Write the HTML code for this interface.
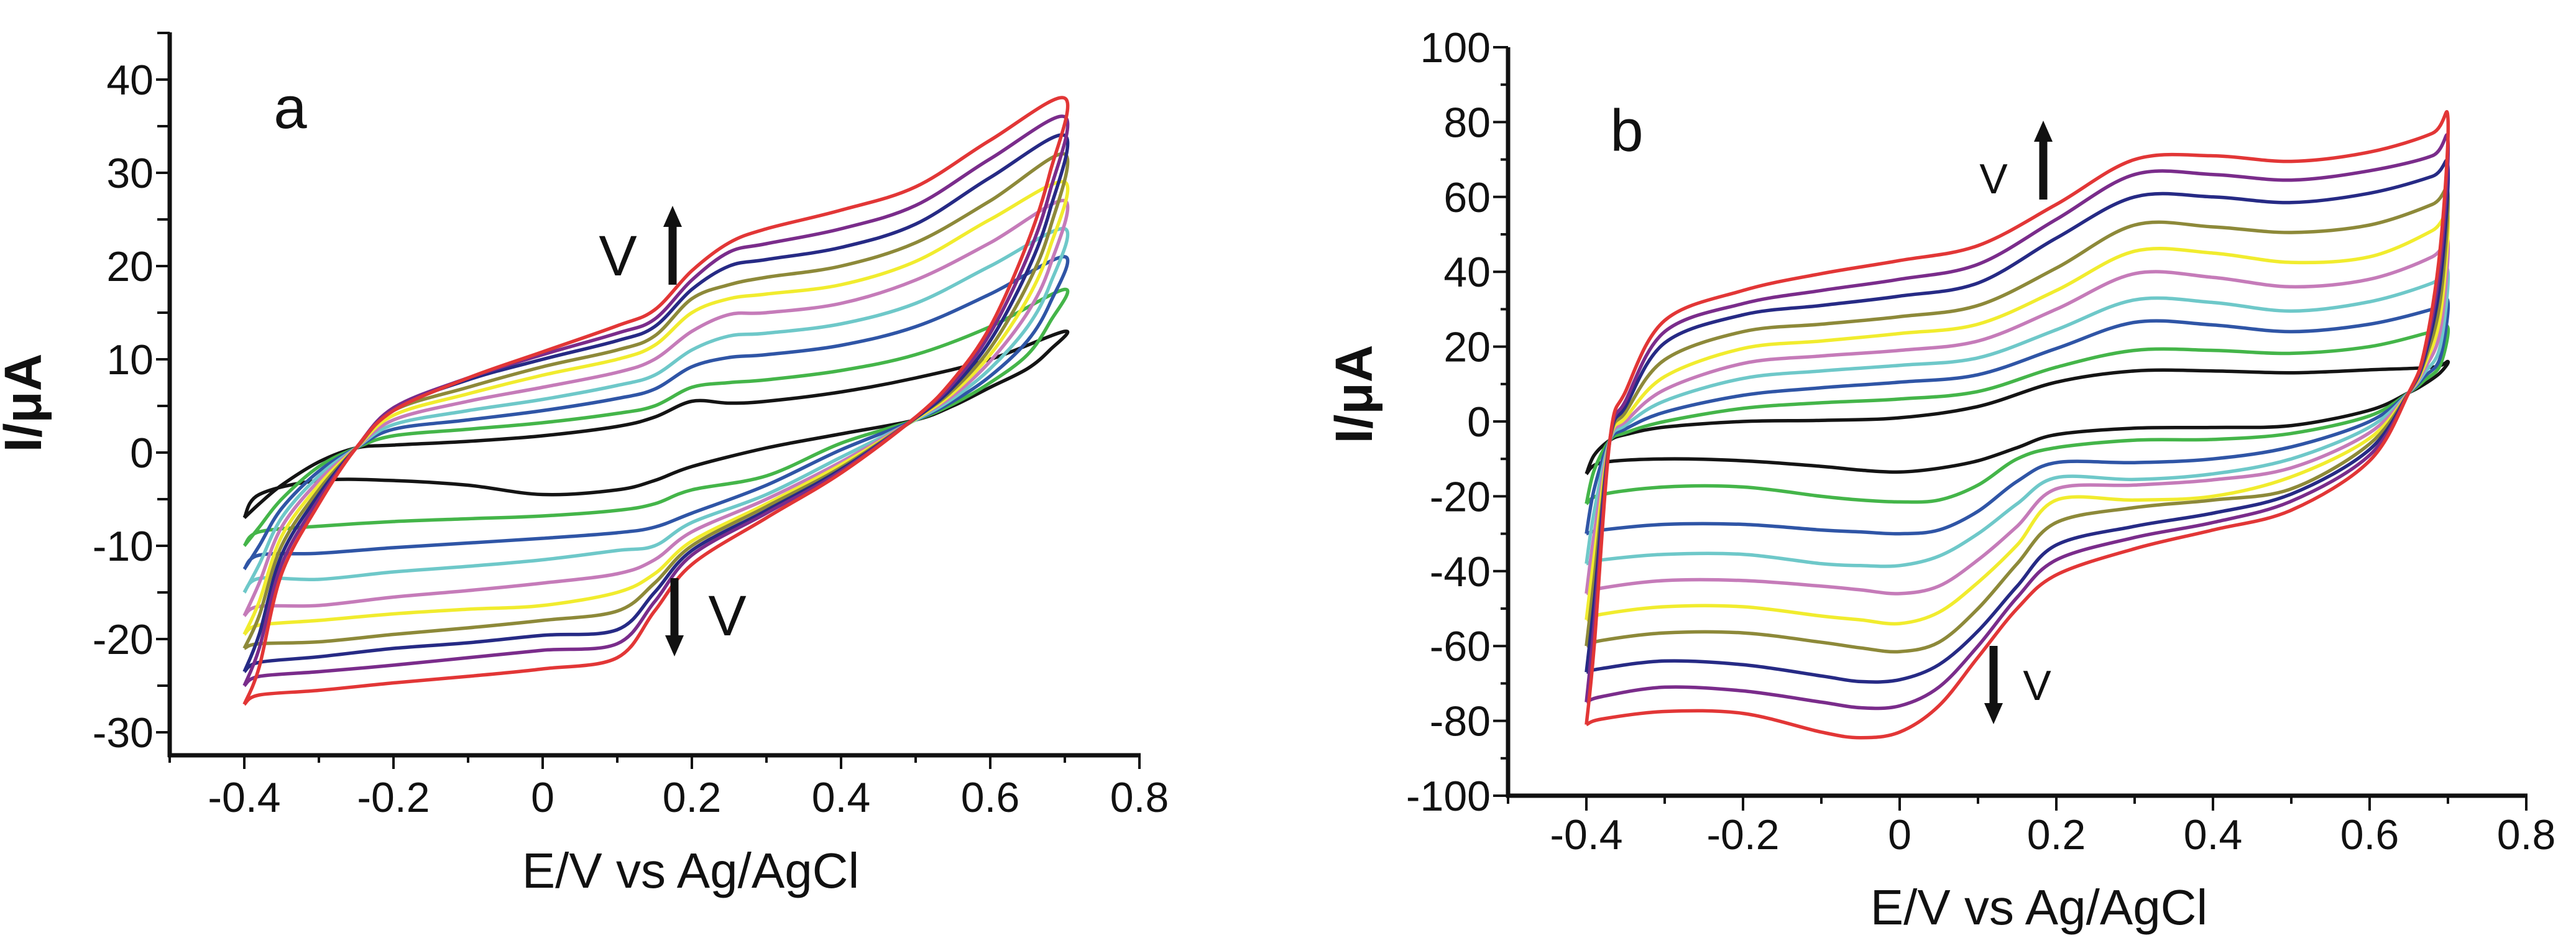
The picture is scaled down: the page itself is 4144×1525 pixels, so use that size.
<!DOCTYPE html>
<html><head><meta charset="utf-8"><style>
html,body{margin:0;padding:0;background:#fff;}
svg{display:block;}
text{font-family:"Liberation Sans",sans-serif;fill:#111;}
</style></head><body>
<svg id="fig" width="4144" height="1525" viewBox="0 0 4144 1525" xmlns="http://www.w3.org/2000/svg">
<g id="pa"></g>
<g id="pb"></g>
</svg>
<script>
const colors = ["#141414","#44b549","#2f55a6","#6ec8c9","#c57bb9","#f1ec2e","#8d8939","#262a85","#7a2c8b","#e23636"];
const seriesNames = ["black","green","blue","cyan","pink","yellow","olive","navy","purple","red"];

// ---------- Panel a data ----------
const aUpE = [-0.4,-0.38,-0.35,-0.3,-0.25,-0.2,-0.1,0,0.1,0.15,0.2,0.25,0.3,0.4,0.5,0.6,0.7];
const aUp = [
 [-7,-5.5,-3.5,-1,0.5,0.8,1.2,1.8,2.8,3.8,5.5,5.3,5.5,6.5,8,10,13],
 [-10,-8,-5,-1.5,0.5,1.8,2.5,3.2,4.2,5,7,7.5,7.8,8.8,10.5,13.5,17.5],
 [-12.5,-10,-6,-2,0.5,2.5,3.5,4.5,5.8,6.8,9.2,10.2,10.5,11.5,13.5,17,21],
 [-15,-12,-7,-2.5,0.5,3,4.5,5.7,7.2,8.3,11,12.5,12.8,13.8,16,20,24],
 [-17.5,-14,-8,-3,0.5,3.5,5.5,7,8.6,10,13,14.8,15,16,18.5,22.5,27],
 [-19.5,-16,-9,-3.5,0.5,4,6.3,8.3,10,11.5,15,16.5,17,18,20.5,25,29],
 [-21,-17.5,-10,-4,0.5,4.5,7,9.2,11,12.5,16.5,18,18.8,20,22.5,27,32],
 [-23.5,-19.5,-11,-4.5,0.5,4.7,7.8,10,12,13.5,17.5,20,20.7,22,24.5,29.5,34],
 [-25,-21,-12,-5,0.5,4.8,8,10.5,12.8,14.3,18.5,21.5,22.4,24,26.5,31.5,36],
 [-27,-23,-13,-5.5,0.5,4.5,8,10.8,13.6,15.3,19.5,22.5,24,26,28.5,33.5,38]
];
const aLoE = [0.7,0.68,0.65,0.6,0.55,0.5,0.4,0.3,0.2,0.15,0.1,0,-0.1,-0.2,-0.3,-0.38,-0.4];
const aLo = [
 [13,11,9,7,5,3.5,2,0.5,-1.5,-3,-4,-4.5,-3.5,-3,-3,-4.5,-7],
 [17.5,14,10.5,7.5,5.2,3.5,1,-2.5,-4,-5.5,-6.2,-6.8,-7.1,-7.4,-7.9,-8.5,-10],
 [21,16,12,8.2,5.5,3.5,0.3,-3.5,-6.5,-8,-8.6,-9.2,-9.7,-10.2,-10.8,-11,-12.5],
 [24,18,13.5,9,5.8,3.5,-0.5,-4.5,-7.5,-10,-10.5,-11.5,-12.2,-12.8,-13.6,-13.5,-15],
 [27,20,15,9.8,6.1,3.6,-1,-5,-8.5,-11.5,-13,-14,-14.8,-15.5,-16.4,-16.5,-17.5],
 [29,22,16.5,10.5,6.4,3.6,-1.3,-5.5,-9.5,-13,-15,-16.4,-16.8,-17.3,-18,-18.5,-19.5],
 [32,24,18,11.2,6.7,3.7,-1.6,-5.8,-10,-14,-17,-18,-18.8,-19.5,-20.3,-20.5,-21],
 [34,26,19.5,12,7,3.7,-1.8,-6.2,-10.5,-15,-19,-19.6,-20.4,-21,-21.9,-22.5,-23.5],
 [36,28,21,12.8,7.4,3.8,-2,-6.5,-11,-16,-20.5,-21.2,-22,-22.8,-23.5,-24,-25],
 [38,30,22.5,13.5,7.8,3.8,-2.2,-7,-12,-17,-22,-23.2,-24,-24.7,-25.5,-26,-27]
];
const aYTicks = [-30,-20,-10,0,10,20,30,40];
const aXTicks = [-0.4,-0.2,0,0.2,0.4,0.6,0.8];
const aXLabels = ["-0.4","-0.2","0","0.2","0.4","0.6","0.8"];

// ---------- Panel b data ----------
const bUpE = [-0.4,-0.39,-0.37,-0.35,-0.3,-0.2,-0.1,0,0.1,0.2,0.3,0.4,0.5,0.6,0.68,0.7];
const bUp = [
 [-14,-9,-5,-3.5,-1.5,0,0.3,1,4,10.5,13.5,13.5,13,13.8,14.5,16],
 [-22,-13,-5,-3,0,3.5,5,6,8,14.5,19,19,18.2,20,24,25],
 [-30,-18,-5,-2,2.5,7,9,10.5,12.5,19.5,26.5,25.8,24,26,30,32],
 [-38,-24,-5,-1,5.5,11.5,13.5,15,17,24.5,32.5,31.8,29.5,32,37,40],
 [-46,-30,-5,0,8.5,15.5,17.5,19,21.5,30,39.5,38.5,36,38,44,48],
 [-53,-36,-5,1,12,19.5,21.5,23.5,26,35,45.5,45,42.5,44,51,55],
 [-60,-42,-5,2.5,16.5,24,26,28,31,41,52.5,52,50.5,52.5,58,61],
 [-67,-48,-5,4,21,28.5,31,33.5,37,49,60,60,58.5,61,65.5,68],
 [-75,-54,-5,5.5,24,31.5,35,38,42,54,66,66,64.5,67,71,75],
 [-81,-60,-5,8,27,35,39.5,43,47,58,70,71,69.5,72,77,81]
];
const bLoE = [0.7,0.69,0.67,0.65,0.6,0.5,0.4,0.3,0.2,0.15,0.1,0.05,0,-0.05,-0.1,-0.2,-0.3,-0.38,-0.4];
const bLo = [
 [16,13,10,7.7,3,-1.1,-1.6,-1.8,-3.5,-7,-10.5,-12.5,-13.5,-13,-12,-10.5,-10,-11,-14],
 [25,15,11,7.7,1.5,-3.2,-4.8,-5,-7,-10,-17,-21,-21.5,-21,-20,-17.5,-17.5,-19.5,-22],
 [32,17,12,7.7,0,-6.8,-10,-11,-11,-16,-24,-29,-30,-29.5,-29,-27.5,-27.5,-29,-30],
 [40,20,13,7.7,-1.5,-10,-14,-15.5,-15,-22,-30,-36,-38.5,-38.5,-38,-35.5,-35.5,-37,-38],
 [48,24,14,7.7,-3,-12.4,-15.6,-17,-18,-28,-37,-44,-46,-45,-44,-42.5,-42.5,-44.5,-46],
 [55,28,15,7.7,-4.5,-14.8,-20,-21,-21,-33,-43,-51,-54,-53,-52,-49.5,-49.5,-51.5,-53],
 [61,32,16,7.7,-6,-18,-21,-23,-27,-38,-50,-59,-61.5,-60.5,-59,-56.5,-56.5,-58.5,-60],
 [68,37,17,7.7,-7.5,-19.4,-24.5,-28,-33,-44,-56,-65,-69,-69.5,-68,-65,-64,-66,-67],
 [75,42,18,7.7,-9,-21.3,-27,-31,-37,-47,-60,-71,-76,-76.5,-75,-72,-71,-73.5,-75],
 [81,46,19,7.7,-10.5,-23.7,-29,-34,-41,-50,-63,-76,-83,-84.5,-83,-78,-77.5,-79.5,-81]
];
const bYTicks = [-100,-80,-60,-40,-20,0,20,40,60,80,100];
const bXTicks = [-0.4,-0.2,0,0.2,0.4,0.6,0.8];
const bXLabels = ["-0.4","-0.2","0","0.2","0.4","0.6","0.8"];

const NS = "http://www.w3.org/2000/svg";
function mk(tag, attrs, parent){
  const e = document.createElementNS(NS, tag);
  for (const k in attrs) e.setAttribute(k, attrs[k]);
  parent.appendChild(e);
  return e;
}
function smooth(pts){
  let d = "M" + pts[0][0].toFixed(1) + "," + pts[0][1].toFixed(1);
  for (let i=0;i<pts.length-1;i++){
    const p0 = pts[Math.max(0,i-1)], p1 = pts[i], p2 = pts[i+1], p3 = pts[Math.min(pts.length-1,i+2)];
    const t = 6;
    const c1x = p1[0]+(p2[0]-p0[0])/t, c1y = p1[1]+(p2[1]-p0[1])/t;
    const c2x = p2[0]-(p3[0]-p1[0])/t, c2y = p2[1]-(p3[1]-p1[1])/t;
    d += "C"+c1x.toFixed(1)+","+c1y.toFixed(1)+" "+c2x.toFixed(1)+","+c2y.toFixed(1)+" "+p2[0].toFixed(1)+","+p2[1].toFixed(1);
  }
  return d;
}

function panel(g, cfg){
  const X = v => cfg.x0 + (v - cfg.xmin) * cfg.xs;
  const Y = v => cfg.y0 - v * cfg.ys;
  for (let s=0;s<cfg.up.length;s++){
    const pts = [];
    cfg.upE.forEach((e,i)=>pts.push([X(e),Y(cfg.up[s][i])]));
    cfg.loE.forEach((e,i)=>{ if(i>0) pts.push([X(e),Y(cfg.lo[s][i])]); });
    const p = mk("path",{d:smooth(pts),fill:"none",stroke:colors[s],"stroke-width":5.5,"stroke-linejoin":"round"},g);
    
    
  }
  const ax = mk("g",{},g);
  
  
  const yAx = mk("line",{x1:cfg.x0,y1:cfg.yTop,x2:cfg.x0,y2:cfg.xAxisY+3,stroke:"#111","stroke-width":7},ax);
  
  
  const xAx = mk("line",{x1:cfg.x0-3,y1:cfg.xAxisY,x2:X(0.8)+2,y2:cfg.xAxisY,stroke:"#111","stroke-width":7},ax);
  
  
  cfg.yTicks.forEach(v=>{
    mk("line",{x1:cfg.x0-cfg.yMaj,y1:Y(v),x2:cfg.x0,y2:Y(v),stroke:"#111","stroke-width":4},ax);
    const t = mk("text",{x:cfg.x0-cfg.yMaj-4,y:Y(v)+24,"text-anchor":"end","font-size":cfg.tickFont},ax);
    t.textContent = String(v);
    
    
  });
  cfg.yMinor.forEach(v=>{
    mk("line",{x1:cfg.x0-cfg.yMin,y1:Y(v),x2:cfg.x0,y2:Y(v),stroke:"#111","stroke-width":4},ax);
  });
  cfg.xTicks.forEach((v,i)=>{
    mk("line",{x1:X(v),y1:cfg.xAxisY,x2:X(v),y2:cfg.xAxisY+cfg.xMaj,stroke:"#111","stroke-width":4},ax);
    const t = mk("text",{x:X(v),y:cfg.xLabY,"text-anchor":"middle","font-size":cfg.tickFont},ax);
    t.textContent = cfg.xLabels[i];
    
    
  });
  [-0.5,-0.3,-0.1,0.1,0.3,0.5,0.7].forEach(v=>{
    mk("line",{x1:X(v),y1:cfg.xAxisY,x2:X(v),y2:cfg.xAxisY+cfg.xMin,stroke:"#111","stroke-width":4},ax);
  });
  const xt = mk("text",{x:cfg.xtX,y:cfg.xtY,"text-anchor":"middle","font-size":80},g);
  xt.textContent = "E/V vs Ag/AgCl";
  
  
  const yt = mk("text",{x:0,y:0,"text-anchor":"middle","font-size":84,"font-weight":"bold",transform:"translate("+(cfg.ytX+30)+","+cfg.ytY+") rotate(-90)"},g);
  yt.textContent = "I/\u03bcA";
  
  
  const pl = mk("text",{x:cfg.plX,y:cfg.plY,"text-anchor":"middle","font-size":96},g);
  pl.textContent = cfg.letter;
  
  
  cfg.arrows.forEach(a=>{
    const ag = mk("g",{},g);
    
    
    const dir = a.dir==="up" ? -1 : 1;
    const tip = a.y2, head = 34;
    mk("line",{x1:a.x,y1:a.y1,x2:a.x,y2:tip - dir*head,stroke:"#111","stroke-width":13},ag);
    mk("polygon",{points:(a.x-15)+","+(tip-dir*head)+" "+(a.x+15)+","+(tip-dir*head)+" "+a.x+","+tip,fill:"#111"},ag);
    const vt = mk("text",{x:a.lx,y:a.ly,"text-anchor":"middle","font-size":a.fs},ag);
    vt.textContent = "V";
  });
}

panel(document.getElementById("pa"),{
  x0:273,xmin:-0.5,xs:1200,y0:728,ys:15,yTop:52,xAxisY:1215,
  upE:aUpE,up:aUp,loE:aLoE,lo:aLo,
  yTicks:aYTicks,yMinor:[-25,-15,-5,5,15,25,35,45],yMaj:22,yMin:20,
  xTicks:aXTicks,xLabels:aXLabels,xMaj:22,xMin:12,xLabY:1306,tickFont:68,
  xtX:1111,xtY:1428,ytX:36,ytY:648,plX:467,plY:206,letter:"a",
  arrows:[{dir:"up",x:1082,y1:458,y2:331,lx:994,ly:443,fs:92},{dir:"down",x:1085,y1:930,y2:1056,lx:1170,ly:1022,fs:92}]
});
panel(document.getElementById("pb"),{
  x0:2426,xmin:-0.5,xs:1260,y0:678,ys:6.02,yTop:76,xAxisY:1280,
  upE:bUpE,up:bUp,loE:bLoE,lo:bLo,
  yTicks:bYTicks,yMinor:[-90,-70,-50,-30,-10,10,30,50,70,90],yMaj:24,yMin:12,
  xTicks:bXTicks,xLabels:bXLabels,xMaj:24,xMin:13,xLabY:1366,tickFont:68,
  xtX:3280,xtY:1487,ytX:2177,ytY:634,plX:2617,plY:243,letter:"b",
  arrows:[{dir:"up",x:3287,y1:321,y2:194,lx:3207,ly:311,fs:68},{dir:"down",x:3207,y1:1039,y2:1165,lx:3277,ly:1126,fs:68}]
});
</script>
</body></html>
